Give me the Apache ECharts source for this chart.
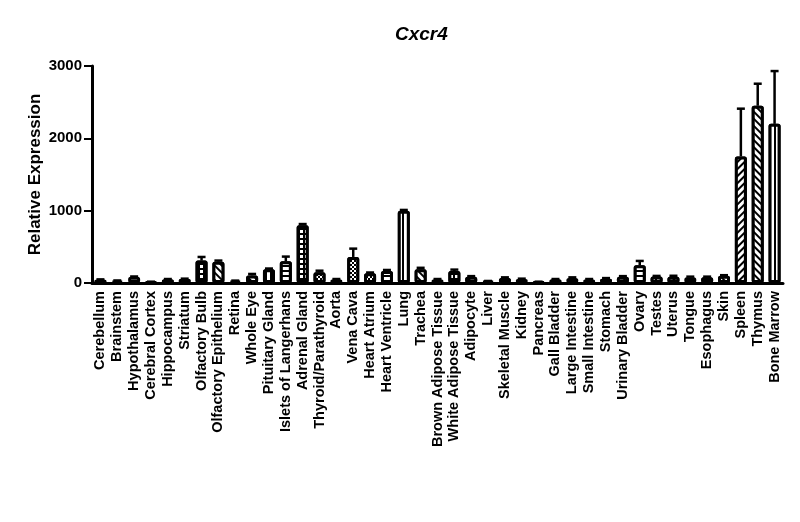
<!DOCTYPE html>
<html>
<head>
<meta charset="utf-8">
<script src="https://cdn.jsdelivr.net/npm/echarts@6/dist/echarts.min.js"></script>
<style>
  html, body { margin: 0; padding: 0; background: #fff; }
  #main { width: 800px; height: 522px; }
</style>
</head>
<body>
<div id="main"></div>
<script>
var tissues = ['Cerebellum', 'Brainstem', 'Hypothalamus', 'Cerebral Cortex', 'Hippocampus', 'Striatum',
    'Olfactory Bulb', 'Olfactory Epithelium', 'Retina', 'Whole Eye', 'Pituitary Gland',
    'Islets of Langerhans', 'Adrenal Gland', 'Thyroid/Parathyroid', 'Aorta', 'Vena Cava',
    'Heart Atrium', 'Heart Ventricle', 'Lung', 'Trachea', 'Brown Adipose Tissue',
    'White Adipose Tissue', 'Adipocyte', 'Liver', 'Skeletal Muscle', 'Kidney', 'Pancreas',
    'Gall Bladder', 'Large Intestine', 'Small Intestine', 'Stomach', 'Urinary Bladder', 'Ovary',
    'Testes', 'Uterus', 'Tongue', 'Esophagus', 'Skin', 'Spleen', 'Thymus', 'Bone Marrow'];

var expression = [45, 30, 85, 15, 50, 55, 310, 295, 30, 105, 190, 300, 800, 150, 50, 360, 135, 165,
    1000, 190, 50, 165, 85, 25, 70, 55, 15, 50, 70, 50, 60, 85, 245, 90, 85, 80, 80, 100,
    1750, 2450, 2200];

var sem = [5, 5, 5, 3, 5, 5, 50, 15, 3, 20, 10, 65, 15, 20, 5, 115, 10, 15, 10, 20, 5, 20, 10, 3,
    8, 5, 3, 5, 8, 5, 8, 10, 60, 8, 15, 8, 8, 8, 660, 305, 730];

var yTicks = [0, 1000, 2000, 3000];

// fill pattern of each bar (style only)
var fills = ['hline', 'open', 'open', 'open', 'hline', 'hline', 'grid', 'diag', 'open', 'diag',
    'vline', 'hline', 'grid', 'check', 'open', 'check', 'check', 'hline', 'vwide', 'diag', 'open',
    'grid', 'diag', 'open', 'diag', 'open', 'open', 'hline', 'open', 'open', 'diag', 'diag', 'hline',
    'vline', 'diag', 'open', 'diag', 'diag', 'diagb', 'diag', 'vwide'];

var decals = {
    hline: {symbol: 'rect', symbolSize: 1, color: '#000', backgroundColor: '#fff', dashArrayX: [1, 0], dashArrayY: [2, 3]},
    vline: {symbol: 'rect', symbolSize: 1, color: '#000', backgroundColor: '#fff', dashArrayX: [2, 3], dashArrayY: [1, 0]},
    vwide: {symbol: 'rect', symbolSize: 1, color: '#000', backgroundColor: '#fff', dashArrayX: [2, 4], dashArrayY: [1, 0]},
    grid: {symbol: 'rect', symbolSize: 1, color: '#fff', backgroundColor: '#000', dashArrayX: [3, 1.5], dashArrayY: [3, 1.5]},
    diag: {symbol: 'rect', symbolSize: 1, color: '#000', backgroundColor: '#fff', dashArrayX: [1, 0], dashArrayY: [2, 3], rotation: Math.PI / 4},
    diagb: {symbol: 'rect', symbolSize: 1, color: '#000', backgroundColor: '#fff', dashArrayX: [1, 0], dashArrayY: [2, 3], rotation: -Math.PI / 4},
    check: {symbol: 'rect', symbolSize: 1, color: '#000', backgroundColor: '#fff', dashArrayX: [[2, 2], [0, 2, 2, 0]], dashArrayY: [2, 0]}
};

var font = '"Liberation Sans", Arial, sans-serif';
var myChart = echarts.init(document.getElementById('main'));

var barData = expression.map(function (v, i) {
    var item = {value: v};
    if (fills[i] !== 'open') {
        item.itemStyle = {decal: decals[fills[i]]};
    }
    return item;
});

var errData = expression.map(function (v, i) {
    return [i, v, v + sem[i]];
});

myChart.setOption({
    animation: false,
    backgroundColor: '#fff',
    title: {
        text: 'Cxcr4',
        left: 390,
        top: 20,
        textStyle: {fontFamily: font, fontSize: 19, fontWeight: 'bold', fontStyle: 'italic', color: '#000'}
    },
    grid: {left: 92, right: 17, top: 66, bottom: 239, containLabel: false},
    xAxis: {
        type: 'category',
        data: tissues,
        axisLine: {lineStyle: {color: '#000', width: 3}},
        axisTick: {alignWithLabel: true, length: 6, lineStyle: {color: '#000', width: 2}},
        axisLabel: {
            interval: 0, rotate: 90, margin: 8,
            fontFamily: font, fontSize: 14.5, fontWeight: 'bold', color: '#000'
        }
    },
    yAxis: {
        type: 'value',
        min: yTicks[0],
        max: yTicks[yTicks.length - 1],
        interval: 1000,
        name: 'Relative Expression',
        nameLocation: 'middle',
        nameGap: 48,
        nameMoveOverlap: false,
        nameTextStyle: {fontFamily: font, fontSize: 17, fontWeight: 'bold', color: '#000'},
        axisLine: {show: true, lineStyle: {color: '#000', width: 3}},
        axisTick: {show: true, length: 8, lineStyle: {color: '#000', width: 2}},
        axisLabel: {
            fontFamily: font, fontSize: 15, fontWeight: 'bold', color: '#000', margin: 10,
            formatter: function (v) { return String(v); }
        },
        splitLine: {show: false}
    },
    series: [
        {
            name: 'expression',
            type: 'bar',
            barWidth: 12,
            data: barData,
            itemStyle: {color: '#fff', borderColor: '#000', borderWidth: 3, borderRadius: 1}
        },
        {
            name: 'sem',
            type: 'custom',
            z: 3,
            data: errData,
            encode: {x: 0, y: [1, 2]},
            renderItem: function (params, api) {
                var base = api.coord([api.value(0), api.value(1)]);
                var top = api.coord([api.value(0), api.value(2)]);
                var style = {stroke: '#000', lineWidth: 2.5};
                return {
                    type: 'group',
                    children: [
                        {type: 'line', shape: {x1: base[0], y1: base[1], x2: top[0], y2: top[1]}, style: style},
                        {type: 'line', shape: {x1: top[0] - 4, y1: top[1], x2: top[0] + 4, y2: top[1]}, style: style}
                    ]
                };
            }
        }
    ]
});
</script>
</body>
</html>
